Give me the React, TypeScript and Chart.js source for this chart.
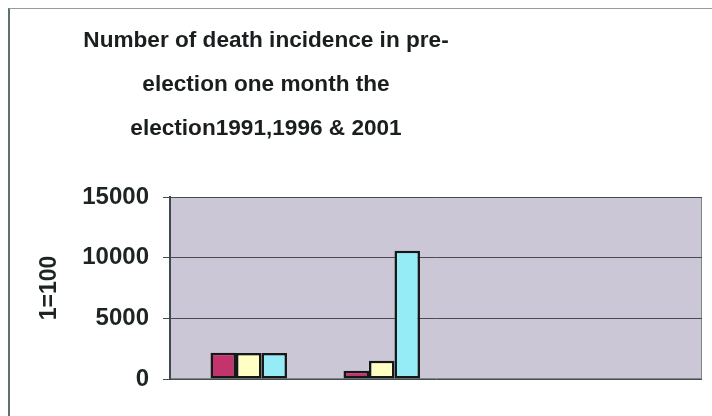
import React, { useEffect, useRef } from "react";
import { Chart, registerables } from "chart.js";

Chart.register(...registerables);

// Chart content
const titleLines = [
  "Number of death incidence in pre-",
  "election one month the",
  "election1991,1996 & 2001",
];
const yAxisTitle = "1=100";
const categories = ["Group 1", "Group 2"];
const seriesNames = ["1991", "1996", "2001"];
const values1991 = [2160, 680];
const values1996 = [2150, 1500];
const values2001 = [2150, 10570];
const yTicks = [0, 5000, 10000, 15000];

const FONT = '"Liberation Sans", Arial, Helvetica, sans-serif';
const seriesColors = ["rgb(196,52,108)", "rgb(255,255,196)", "rgb(150,236,246)"];
const seriesValues = [values1991, values1996, values2001];

// Lavender plot area with a thin grey frame
const plotBackground = {
  id: "plotBackground",
  beforeDraw(chart: any) {
    const { ctx, chartArea: a } = chart;
    ctx.save();
    ctx.fillStyle = "rgb(203,199,214)";
    ctx.fillRect(a.left, a.top, a.right - a.left, a.bottom - a.top);
    ctx.strokeStyle = "#7f8787";
    ctx.lineWidth = 1;
    ctx.strokeRect(a.left + 0.5, a.top + 0.5, a.right - a.left - 1, a.bottom - a.top - 1);
    ctx.restore();
  },
};

// Three-line bold heading, centred over the left part of the chart
const titleBlock = {
  id: "titleBlock",
  afterDraw(chart: any) {
    const { ctx } = chart;
    ctx.save();
    ctx.font = `bold 22.6px ${FONT}`;
    ctx.fillStyle = "#1a1e1e";
    ctx.textAlign = "center";
    ctx.textBaseline = "alphabetic";
    titleLines.forEach((line, i) => {
      ctx.fillText(line, 256, 38 + i * 44);
    });
    ctx.restore();
  },
};

export default function App() {
  const canvasRef = useRef<HTMLCanvasElement | null>(null);

  useEffect(() => {
    if (!canvasRef.current) return;
    const chart = new Chart(canvasRef.current, {
      type: "bar",
      data: {
        datasets: seriesNames.map((name, s) => ({
          label: name,
          data: categories.map((_, i) => ({ x: i + 1, y: seriesValues[s][i] })),
          backgroundColor: seriesColors[s],
          borderColor: "#141818",
          borderWidth: 2.5,
          borderSkipped: false,
          categoryPercentage: 0.575,
          barPercentage: 1,
        })),
      },
      options: {
        responsive: false,
        animation: false,
        events: [],
        layout: { padding: { top: 188, right: 10, bottom: 37, left: 0 } },
        plugins: {
          legend: { display: false },
          title: { display: false },
          tooltip: { enabled: false },
        },
        scales: {
          x: {
            type: "linear",
            display: false,
            offset: false,
            min: 0.408,
            max: 4.408,
            ticks: { stepSize: 1, includeBounds: false },
            grid: { display: false, offset: false },
          },
          y: {
            min: yTicks[0],
            max: yTicks[yTicks.length - 1],
            afterBuildTicks: (scale: any) => {
              scale.ticks = yTicks.map((v) => ({ value: v }));
            },
            afterFit: (scale: any) => {
              scale.width = 160;
            },
            ticks: {
              font: { family: FONT, size: 24, weight: "bold" },
              color: "#1e2424",
              padding: 14,
              callback: (v: any) => String(v),
            },
            grid: { color: "#454d4d", lineWidth: 1, tickLength: 7, drawTicks: true },
            border: { color: "#3e4a4a", width: 2 },
            title: {
              display: true,
              text: yAxisTitle,
              font: { family: FONT, size: 23, weight: "bold" },
              color: "#1e2424",
              padding: { top: 26, bottom: 0 },
            },
          },
        },
      },
      plugins: [plotBackground, titleBlock],
    } as any);
    return () => chart.destroy();
  }, []);

  return (
    <div
      style={{
        position: "fixed",
        left: 8,
        top: 8,
        width: 702,
        height: 407,
        borderLeft: "2px solid #5d6f6f",
        borderTop: "1px solid #9a9a9a",
        background: "#fff",
      }}
    >
      <canvas ref={canvasRef} width={702} height={407} style={{ display: "block" }} />
    </div>
  );
}
